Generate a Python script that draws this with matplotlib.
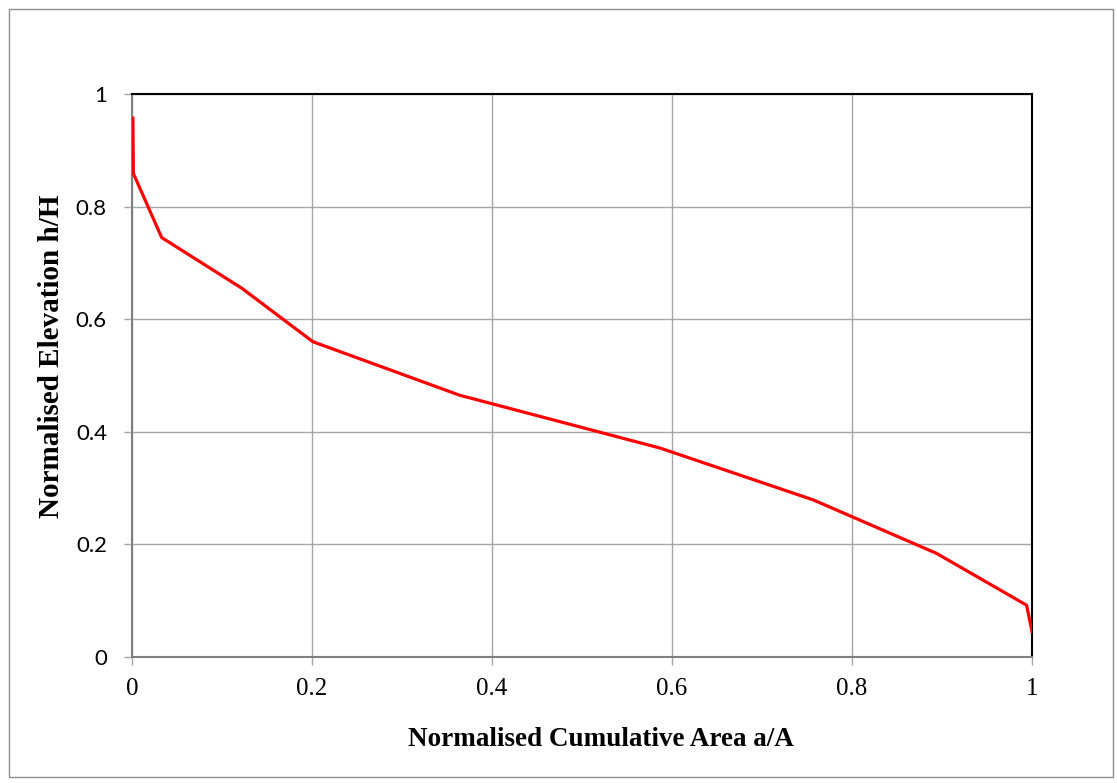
import matplotlib
matplotlib.use("Agg")
import matplotlib.pyplot as plt
from matplotlib.patches import Rectangle

area = [0.001, 0.0015, 0.033, 0.122, 0.201, 0.364, 0.587, 0.757, 0.894, 0.994, 1.0]
elev = [0.957, 0.859, 0.745, 0.655, 0.560, 0.465, 0.371, 0.279, 0.184, 0.092, 0.045]
xticks = [0, 0.2, 0.4, 0.6, 0.8, 1]
yticks = [0, 0.2, 0.4, 0.6, 0.8, 1]
xticklabels = ["0", "0.2", "0.4", "0.6", "0.8", "1"]
yticklabels = ["0", "0.2", "0.4", "0.6", "0.8", "1"]

W, H = 1117, 783
fig = plt.figure(figsize=(W / 100, H / 100), dpi=100)
fig.patches.append(Rectangle((9 / W, 6 / H), (1113 - 9) / W, (774 - 6) / H,
                             transform=fig.transFigure, fill=False,
                             edgecolor="#8c8c8c", linewidth=1.0))
ax = fig.add_axes([132 / W, (H - 657) / H, 900 / W, 563 / H])
ax.plot(area, elev, color="#ff0000", linewidth=2.3, solid_joinstyle="miter", zorder=3)
ax.set_xlim(0, 1)
ax.set_ylim(0, 1)
ax.set_xticks(xticks)
ax.set_yticks(yticks)
ax.set_xticklabels(xticklabels, fontfamily="Liberation Serif", fontsize=18)
ax.set_yticklabels(yticklabels, fontfamily="Lato", fontsize=16)
ax.grid(True, color="#a6a6a6", linewidth=1.0)
ax.set_axisbelow(True)
for s in ["top", "right"]:
    ax.spines[s].set_color("black")
    ax.spines[s].set_linewidth(1.5)
for s in ["left", "bottom"]:
    ax.spines[s].set_color("#808080")
    ax.spines[s].set_linewidth(1.5)
ax.tick_params(axis="both", direction="out", length=6, width=1.0, color="#a6a6a6",
               labelcolor="black")
ax.tick_params(axis="x", pad=9)
ax.tick_params(axis="y", pad=12)
fig.text(601 / W, 1 - 746 / H, "Normalised Cumulative Area a/A",
         fontfamily="Liberation Serif", fontweight="bold", fontsize=19.5,
         ha="center", va="baseline")
fig.text(52 / W, 1 - 356 / H, "Normalised Elevation h/H",
         fontfamily="Liberation Serif", fontweight="bold", fontsize=21,
         ha="center", va="center", rotation=90)
fig.savefig("out.png", dpi=100)
